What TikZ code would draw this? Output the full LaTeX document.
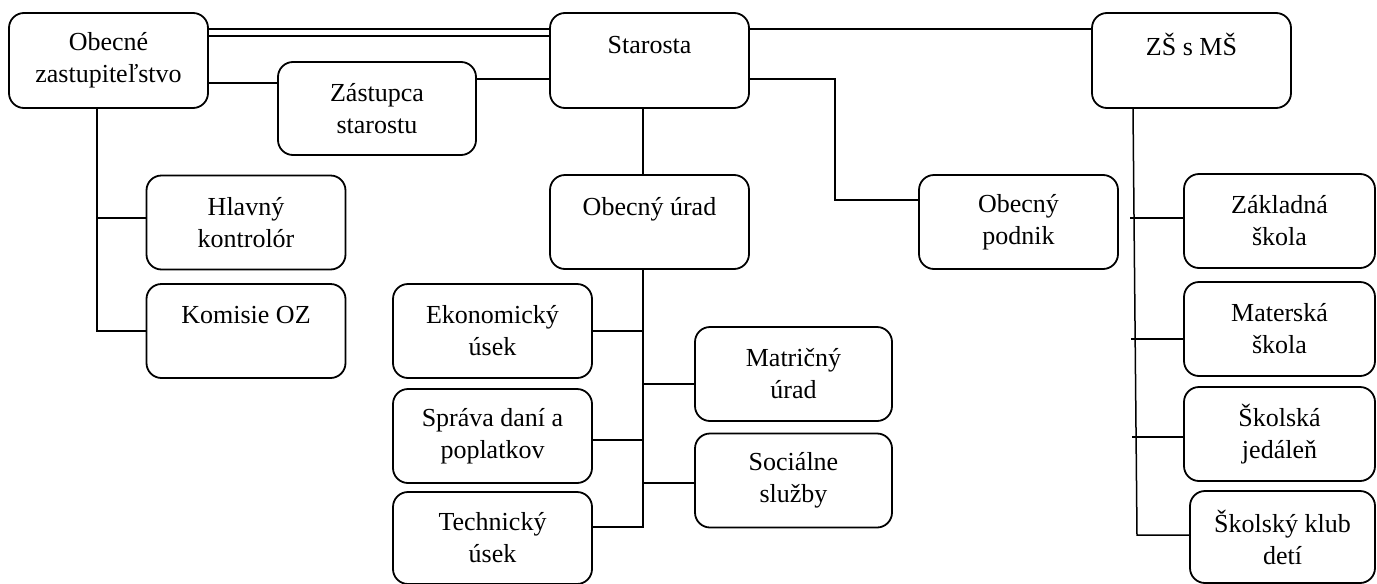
\documentclass[tikz,border=0pt]{standalone}
\usepackage{fontspec}
\setmainfont{Liberation Serif}
\usetikzlibrary{calc}
\begin{document}
\begin{tikzpicture}[x=1pt,y=-1pt,
  office/.style={draw,rounded corners=15pt,line width=1.8pt,minimum width=199pt,minimum height=94pt,align=center,inner sep=0pt,font=\fontsize{26}{32}\selectfont},
  link/.style={line width=1.5pt}]
\useasboundingbox (0,0) rectangle (1377,584);
% top row
\node[office,minimum height=95pt] (oz) at (108.5,60.5) {Obecné\\zastupiteľstvo};
\node[office,minimum height=95pt] (star) at (649.5,60.5) {Starosta\\\mbox{}};
\node[office,minimum height=95pt] (zs) at (1191.5,60.5) {ZŠ s MŠ\\\mbox{}};
\node[office,minimum width=198pt,minimum height=93pt] (zast) at (377,108.5) {Zástupca\\starostu};
% left branch
\node[office] (hk) at (246,222.5) {Hlavný\\kontrolór};
\node[office] (kom) at (246,331) {Komisie OZ\\\mbox{}};
% middle branch
\node[office] (ou) at (649.5,222) {Obecný úrad\\\mbox{}};
\node[office] (op) at (1018.5,222) {Obecný\\podnik};
\node[office] (eko) at (492.5,331) {Ekonomický\\úsek};
\node[office] (sprava) at (492.5,436) {Správa daní a\\poplatkov};
\node[office,minimum height=92pt] (tech) at (492.5,538) {Technický\\úsek};
\node[office,minimum width=197pt] (matr) at (793.5,374) {Matričný\\úrad};
\node[office,minimum width=197pt] (soc) at (793.5,480.5) {Sociálne\\služby};
% right branch
\node[office,minimum width=191pt] (zak) at (1279.5,221) {Základná\\škola};
\node[office,minimum width=191pt] (mat) at (1279.5,329) {Materská\\škola};
\node[office,minimum width=191pt] (jed) at (1279.5,434) {Školská\\jedáleň};
\node[office,minimum width=185pt,minimum height=92pt] (klub) at (1282.5,537) {Školský klub\\detí};
% links of the top row
\draw[link,double,double distance=5.5pt] ([yshift=28pt]oz.east) -- ([yshift=28pt]star.west);
\draw[link] ([yshift=31.5pt]star.east) -- ([yshift=31.5pt]zs.west);
\draw[link] ([yshift=-22.5pt]oz.east) -- ([yshift=-22.5pt]oz.east -| zast.west);
\draw[link] ([yshift=-18.5pt]star.west) -- ([yshift=-18.5pt]star.west -| zast.east);
\draw[link] ([yshift=-18.5pt]star.east) -- ++(85,0) |- ([yshift=22pt]op.west);
\draw[link] ([xshift=-6.5pt]star.south) -- ([xshift=-6.5pt]ou.north);
% office bus
\coordinate (oub) at ([xshift=-6.5pt]ou.south);
\draw[link] (oub) |- ([yshift=11pt]tech.east);
\draw[link] (eko.east) -| (oub);
\draw[link] ([yshift=-4pt]sprava.east) -| (oub);
\draw[link] ([yshift=-10pt]matr.west) -| (oub);
\draw[link] ([yshift=-2.5pt]soc.west) -| (oub);
% council bus
\coordinate (ozb) at ([xshift=-11.5pt]oz.south);
\draw[link] ([yshift=4.5pt]hk.west) -| (ozb);
\draw[link] (kom.west) -| (ozb);
% school bus
\coordinate (zsb) at ([xshift=-58.5pt]zs.south);
\coordinate (zse) at (1137,535);
\draw[link] (zsb) -- (zse) -- ([yshift=2pt]klub.west);
\draw[link] ([yshift=3pt]zak.west) -- ++(-53,0);
\draw[link] ([yshift=-10pt]mat.west) -- ++(-52,0);
\draw[link] ([yshift=-3pt]jed.west) -- ++(-51,0);
\end{tikzpicture}
\end{document}
